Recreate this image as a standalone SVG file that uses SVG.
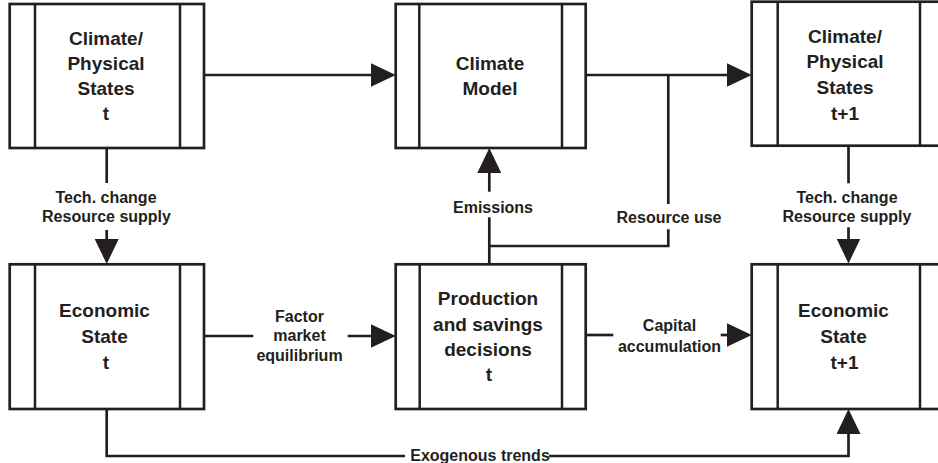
<svg xmlns="http://www.w3.org/2000/svg" width="938" height="463" viewBox="0 0 938 463">
<defs>
<style>
.box{fill:#fff;stroke:#231f20;stroke-width:2.7}
.div{stroke:#231f20;stroke-width:2.5}
.con{fill:none;stroke:#231f20;stroke-width:2.7}
.arr{fill:none;stroke:#231f20;stroke-width:2.7;marker-end:url(#ah)}
text{font-family:"Liberation Sans",Arial,Helvetica,sans-serif;font-weight:bold;fill:#231f20;text-anchor:middle}
.main{font-size:19px}
.lab{font-size:16px}
</style>
<marker id="ah" markerUnits="userSpaceOnUse" markerWidth="25" markerHeight="24" viewBox="0 0 25 24" refX="17" refY="12" orient="auto">
<path d="M0,0 L25,12 L0,24 z" fill="#231f20"/>
</marker>
</defs>
<rect width="938" height="463" fill="#fff"/>

<g id="connectors">
<path class="arr" d="M204,75 H387.7"/>
<path class="arr" d="M585.7,75 H743.7"/>
<path class="con" d="M106.7,148 V183"/>
<path class="arr" d="M106.7,230 V256"/>
<path class="con" d="M848.5,146 V183.3"/>
<path class="arr" d="M848.5,227.3 V255.5"/>
<path class="con" d="M489.3,264 V217.3"/>
<path class="arr" d="M489.3,191.7 V156"/>
<path class="con" d="M489.3,246 H668.3 V229.3"/>
<path class="con" d="M668.3,204 V75"/>
<path class="con" d="M204,336 H253.3"/>
<path class="arr" d="M347.7,336 H387.7"/>
<path class="con" d="M585.7,335 H613.3"/>
<path class="arr" d="M720.7,335 H743.7"/>
<path class="con" d="M106.7,409 V456 H405"/>
<path class="arr" d="M549,456 H848.5 V417"/>
<text class="lab" x="106" y="203">Tech. change</text>
<text class="lab" x="106.5" y="221.5">Resource supply</text>
<text class="lab" x="847" y="203">Tech. change</text>
<text class="lab" x="847" y="221.5">Resource supply</text>
<text class="lab" x="493" y="212.5">Emissions</text>
<text class="lab" x="669" y="223">Resource use</text>
<text class="lab" x="299.5" y="321.5">Factor</text>
<text class="lab" x="299.5" y="341">market</text>
<text class="lab" x="299.5" y="361">equilibrium</text>
<text class="lab" x="669.5" y="331">Capital</text>
<text class="lab" x="669.5" y="351.5">accumulation</text>
<text class="lab" x="480" y="460.5">Exogenous trends</text>
</g>

<g id="climate-t">
<rect class="box" x="9.7" y="4" width="194.3" height="144"/>
<line class="div" x1="35" y1="4" x2="35" y2="148"/>
<line class="div" x1="180" y1="4" x2="180" y2="148"/>
<text class="main" x="106" y="45">Climate/</text>
<text class="main" x="106" y="70">Physical</text>
<text class="main" x="106" y="95">States</text>
<text class="main" x="106" y="120">t</text>
</g>

<g id="climate-model">
<rect class="box" x="395.7" y="4" width="190" height="144"/>
<line class="div" x1="419.3" y1="4" x2="419.3" y2="148"/>
<line class="div" x1="562" y1="4" x2="562" y2="148"/>
<text class="main" x="490" y="70">Climate</text>
<text class="main" x="490" y="94.5">Model</text>
</g>

<g id="climate-t1">
<rect class="box" x="751.7" y="1.7" width="192.3" height="144"/>
<line class="div" x1="777.7" y1="1.7" x2="777.7" y2="145.7"/>
<line class="div" x1="920" y1="1.7" x2="920" y2="145.7"/>
<text class="main" x="845" y="42.5">Climate/</text>
<text class="main" x="845" y="68">Physical</text>
<text class="main" x="845" y="94">States</text>
<text class="main" x="845" y="120">t+1</text>
</g>

<g id="economic-t">
<rect class="box" x="9.7" y="264.3" width="194.3" height="144.7"/>
<line class="div" x1="35" y1="264.3" x2="35" y2="409"/>
<line class="div" x1="180" y1="264.3" x2="180" y2="409"/>
<text class="main" x="104.5" y="316.7">Economic</text>
<text class="main" x="104.5" y="342.7">State</text>
<text class="main" x="106" y="369">t</text>
</g>

<g id="production">
<rect class="box" x="395.7" y="264.3" width="190" height="144.7"/>
<line class="div" x1="419.7" y1="264.3" x2="419.7" y2="409"/>
<line class="div" x1="562" y1="264.3" x2="562" y2="409"/>
<text class="main" x="488" y="305">Production</text>
<text class="main" x="488" y="330.7">and savings</text>
<text class="main" x="488" y="356">decisions</text>
<text class="main" x="489" y="381">t</text>
</g>

<g id="economic-t1">
<rect class="box" x="751.7" y="264.3" width="192.3" height="144.7"/>
<line class="div" x1="777.7" y1="264.3" x2="777.7" y2="409"/>
<line class="div" x1="920" y1="264.3" x2="920" y2="409"/>
<text class="main" x="843.5" y="316.7">Economic</text>
<text class="main" x="843.5" y="342.7">State</text>
<text class="main" x="844.5" y="369">t+1</text>
</g>
</svg>
